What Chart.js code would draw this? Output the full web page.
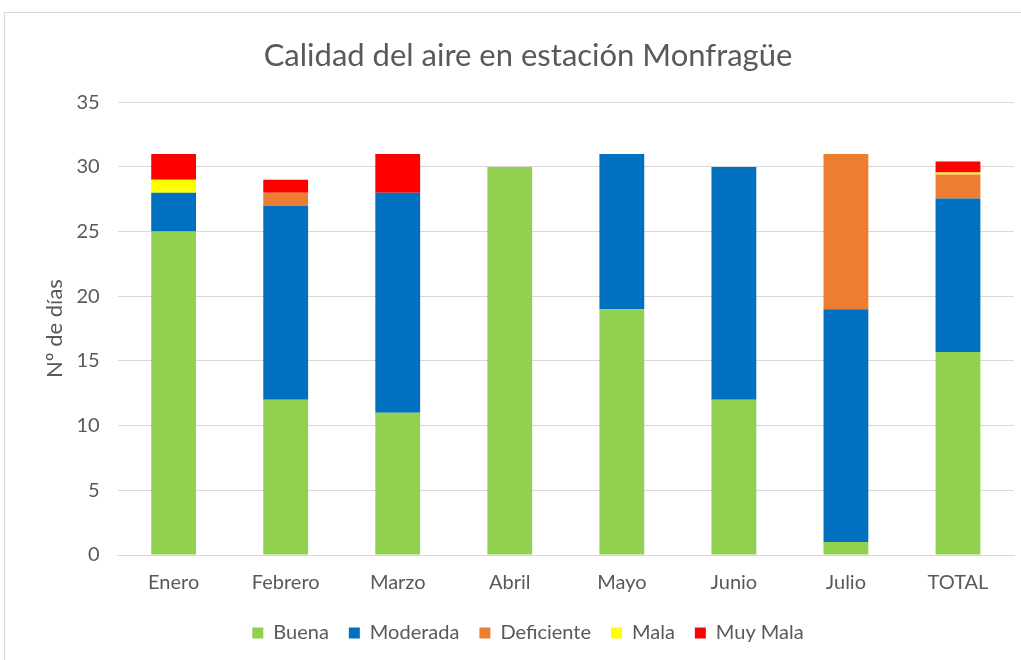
<!DOCTYPE html>
<html>
<head>
<meta charset="utf-8">
<script src="https://cdn.jsdelivr.net/npm/chart.js@4"></script>
<style>
  body { margin: 0; background: #fff; }
  #wrap { position: absolute; left: 4px; top: 12px; width: 1030px; height: 660px; border: 1px solid #d9d9d9; box-sizing: border-box; }
  #box { position: absolute; left: 0; top: 0; width: 1017px; height: 648px; }
</style>
</head>
<body>
<div id="wrap"><div id="box"><canvas id="chart"></canvas></div></div>
<script>
const months = ['Enero', 'Febrero', 'Marzo', 'Abril', 'Mayo', 'Junio', 'Julio', 'TOTAL'];
const buena      = [25, 12, 11, 30, 19, 12, 1, 15.7];
const moderada   = [3, 15, 17, 0, 12, 18, 18, 11.85];
const deficiente = [0, 1, 0, 0, 0, 0, 12, 1.86];
const mala       = [1, 0, 0, 0, 0, 0, 0, 0.15];
const muyMala    = [2, 1, 3, 0, 0, 0, 0, 0.85];

const grey = '#595959';
const font = "Lato, 'Open Sans', sans-serif";

function ds(label, data, color) {
    return {
        label: label,
        data: data,
        backgroundColor: color,
        borderWidth: 0,
        barPercentage: 0.4,
        categoryPercentage: 1.0
    };
}

new Chart(document.getElementById('chart'), {
    type: 'bar',
    data: {
        labels: months,
        datasets: [
            ds('Buena', buena, '#92d050'),
            ds('Moderada', moderada, '#0070c0'),
            ds('Deficiente', deficiente, '#ed7d31'),
            ds('Mala', mala, '#ffff00'),
            ds('Muy Mala', muyMala, '#ff0000')
        ]
    },
    options: {
        responsive: true,
        maintainAspectRatio: false,
        animation: false,
        layout: { padding: { left: 37, right: 8, top: 24, bottom: 8 } },
        plugins: {
            title: {
                display: true,
                text: 'Calidad del aire en estación Monfragüe',
                color: grey,
                font: { family: font, size: 31, weight: 'normal' },
                padding: { top: 0, bottom: 28 }
            },
            legend: {
                position: 'bottom',
                labels: {
                    color: grey,
                    font: { family: font, size: 20 },
                    boxWidth: 11,
                    boxHeight: 11,
                    padding: 20
                }
            },
            tooltip: { enabled: false }
        },
        scales: {
            x: {
                stacked: true,
                grid: { display: false },
                border: { color: '#d9d9d9' },
                ticks: { color: grey, font: { family: font, size: 20 }, padding: 8 }
            },
            y: {
                stacked: true,
                min: 0,
                max: 35,
                ticks: { stepSize: 5, color: grey, font: { family: font, size: 20 }, padding: 18 },
                grid: { color: '#d9d9d9', drawTicks: false },
                border: { display: false },
                title: {
                    display: true,
                    text: 'Nº de días',
                    color: grey,
                    font: { family: font, size: 22 },
                    padding: { top: 0, bottom: -10 }
                }
            }
        }
    }
});
</script>
</body>
</html>
